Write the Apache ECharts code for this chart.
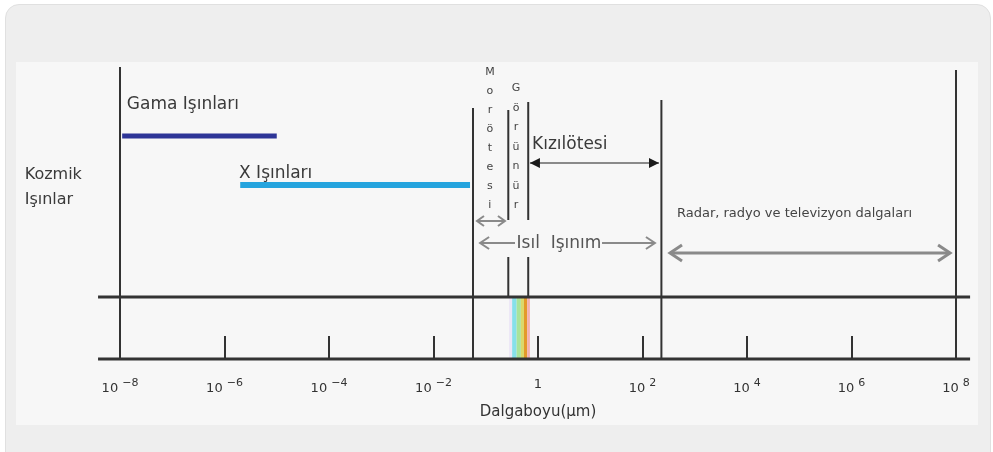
<!DOCTYPE html>
<html>
<head>
<meta charset="utf-8">
<script src="https://cdn.jsdelivr.net/npm/echarts@6.0.0/dist/echarts.min.js"></script>
<style>
  html, body { margin: 0; padding: 0; background: #fff; }
  #frame { position: absolute; left: 5px; top: 4px; width: 984px; height: 460px; background: #eeeeee; border-radius: 14px; border: 1px solid #e0e0e0; }
  #panel { position: absolute; left: 16px; top: 62px; width: 962px; height: 363px; background: #f7f7f7; }
  #chart { position: absolute; left: 0; top: 0; width: 993px; height: 452px; }
</style>
</head>
<body>
<div id="frame"></div>
<div id="panel"></div>
<div id="chart"></div>
<script>
// dalgaboyu değerleri μm, eksen log10 üzerinden çiziliyor
const lg = (v) => Math.log10(v)

// eksen üsleri
const tickExp = [-8, -6, -4, -2, 0, 2, 4, 6, 8]

// dikey sınır çizgileri
const lineAt = [1e-8, 0.057, 0.27, 0.27, 0.65, 0.65, 230, 1e8]
const lineTop = [292, 251, 249, 102, 257, 102, 259, 289]
const lineBottom = [0, 0, 139, 62, 139, 62, 0, 0]

// yatay çizgiler (taban ve üst şerit)
const railFrom = 3.8e-9
const railTo = 1.86e8
const railLevel = [0, 62]

// gama ve x ışınları aralıkları
const rayFrom = [1.1e-8, 2e-6]
const rayTo = [1e-5, 0.05]
const rayLevel = [223, 174]

// görünür bölge renk şeritleri
const bandFrom = [0.28, 0.32, 0.39, 0.47, 0.54, 0.62]
const bandTo = [0.32, 0.39, 0.47, 0.54, 0.62, 0.7]

// oklar: kızılötesi, morötesi, ısıl (sol/sağ), radar
const arrowFrom = [0.7, 0.068, 0.078, 16.8, 336]
const arrowTo = [207, 0.233, 0.363, 173, 7.7e7]
const arrowLevel = [196, 138, 116, 116, 106]
const arrowHead = ['both', 'both', 'start', 'end', 'both']

// yazılar
const labelText = [
  'Gama Işınları',
  'X Işınları',
  'Kozmik\nIşınlar',
  'Kızılötesi',
  'Isıl  Işınım',
  'Radar, radyo ve televizyon dalgaları',
  'M\no\nr\nö\nt\ne\ns\ni',
  'G\nö\nr\nü\nn\nü\nr',
]
const labelAt = [1.35e-8, 1.9e-6, 1.5e-10, 0.77, 2.52, 457, 0.12, 0.38]
const labelLevel = [254, 185, 172, 214, 115, 145, 220, 212]

const bandColor = ['#ece6f6', '#86e0ea', '#a9e39a', '#dcd86a', '#e39a2a', '#f2b0b0']
const rayColor = ['#2e3597', '#25a4de']
const arrowLook = [
  { color: '#8a8a8a', head: '#1a1a1a', width: 2, len: 10, half: 5, filled: true },
  { color: '#8a8a8a', head: '#8a8a8a', width: 2, len: 7, half: 5, filled: false },
  { color: '#8a8a8a', head: '#8a8a8a', width: 2, len: 9, half: 6, filled: false },
  { color: '#8a8a8a', head: '#8a8a8a', width: 2, len: 9, half: 6, filled: false },
  { color: '#8a8a8a', head: '#8a8a8a', width: 3, len: 12, half: 8, filled: false },
]
const labelLook = [
  { size: 17, color: '#3a3a3a', align: 'left', lh: 20 },
  { size: 17, color: '#3a3a3a', align: 'left', lh: 20 },
  { size: 16, color: '#3a3a3a', align: 'left', lh: 25 },
  { size: 17, color: '#3a3a3a', align: 'left', lh: 20 },
  { size: 17, color: '#555', align: 'center', lh: 20 },
  { size: 13, color: '#444', align: 'left', lh: 16 },
  { size: 11, color: '#444', align: 'center', lh: 19 },
  { size: 11, color: '#444', align: 'center', lh: 19.5 },
]

function segment(width, colorOf) {
  return function (params, api) {
    const a = api.coord([api.value(0), api.value(1)])
    const b = api.coord([api.value(2), api.value(3)])
    return {
      type: 'line',
      shape: { x1: a[0], y1: a[1], x2: b[0], y2: b[1] },
      style: { stroke: colorOf(params.dataIndex), lineWidth: width },
    }
  }
}

function arrow(params, api) {
  const look = arrowLook[params.dataIndex]
  const a = api.coord([api.value(0), api.value(2)])
  const b = api.coord([api.value(1), api.value(2)])
  const head = arrowHead[params.dataIndex]
  const kids = [{
    type: 'line',
    shape: { x1: a[0], y1: a[1], x2: b[0], y2: b[1] },
    style: { stroke: look.color, lineWidth: look.width },
  }]
  const tip = (p, dir) => {
    const pts = [[p[0] - dir * look.len, p[1] - look.half], [p[0], p[1]], [p[0] - dir * look.len, p[1] + look.half]]
    if (look.filled) return { type: 'polygon', shape: { points: pts }, style: { fill: look.head } }
    return { type: 'polyline', shape: { points: pts }, style: { stroke: look.head, lineWidth: look.width, fill: null } }
  }
  if (head !== 'end') kids.push(tip(a, -1))
  if (head !== 'start') kids.push(tip(b, 1))
  return { type: 'group', children: kids }
}

const chart = echarts.init(document.getElementById('chart'))

const option = {
  animation: false,
  grid: { left: 120, right: 37, top: 62, bottom: 93 },
  xAxis: {
    type: 'value',
    min: tickExp[0],
    max: tickExp[tickExp.length - 1],
    interval: 2,
    name: 'Dalgaboyu(μm)',
    nameLocation: 'middle',
    nameGap: 46,
    nameTextStyle: { fontFamily: 'DejaVu Sans', fontSize: 15, color: '#333' },
    axisLine: { show: false },
    splitLine: { show: false },
    axisTick: { inside: true, length: 23, lineStyle: { color: '#333', width: 2 } },
    axisLabel: {
      margin: 19,
      formatter: (v) => (v === 0 ? '{b|1}' : '{b|10}{s|' + String(v).replace('-', '−') + '}'),
      rich: {
        b: { fontFamily: 'DejaVu Sans', fontSize: 13, color: '#333' },
        s: { fontFamily: 'DejaVu Sans', fontSize: 11, color: '#333', padding: [0, 0, 11, 4] },
      },
    },
  },
  yAxis: { type: 'value', min: 0, max: 297, show: false },
  series: [
    {
      type: 'custom',
      encode: { x: [0, 1], y: 2 },
      data: bandFrom.map((f, i) => [lg(f), lg(bandTo[i]), railLevel[1]]),
      renderItem: (params, api) => {
        const p0 = api.coord([api.value(0), api.value(2)])
        const p1 = api.coord([api.value(1), railLevel[0]])
        return {
          type: 'rect',
          shape: { x: p0[0], y: p0[1], width: p1[0] - p0[0], height: p1[1] - p0[1] },
          style: { fill: bandColor[params.dataIndex] },
        }
      },
    },
    {
      type: 'custom',
      encode: { x: [0, 2], y: [1, 3] },
      data: railLevel.map((y) => [lg(railFrom), y, lg(railTo), y]),
      renderItem: segment(3, () => '#333'),
    },
    {
      type: 'custom',
      encode: { x: [0, 2], y: [1, 3] },
      data: lineAt.map((x, i) => [lg(x), lineTop[i], lg(x), lineBottom[i]]),
      renderItem: segment(2, () => '#333'),
    },
    {
      type: 'custom',
      encode: { x: [0, 2], y: [1, 3] },
      data: rayFrom.map((f, i) => [lg(f), rayLevel[i], lg(rayTo[i]), rayLevel[i]]),
      renderItem: (params, api) => {
        const seg = segment(params.dataIndex === 0 ? 5 : 6, (i) => rayColor[i])
        return seg(params, api)
      },
    },
    {
      type: 'custom',
      encode: { x: [0, 1], y: 2 },
      data: arrowFrom.map((f, i) => [lg(f), lg(arrowTo[i]), arrowLevel[i]]),
      renderItem: arrow,
    },
    {
      type: 'custom',
      encode: { x: 0, y: 1 },
      data: labelAt.map((x, i) => [lg(x), labelLevel[i]]),
      renderItem: (params, api) => {
        const look = labelLook[params.dataIndex]
        const p = api.coord([api.value(0), api.value(1)])
        return {
          type: 'text',
          x: p[0],
          y: p[1],
          style: {
            text: labelText[params.dataIndex],
            fill: look.color,
            fontFamily: 'DejaVu Sans',
            fontSize: look.size,
            lineHeight: look.lh,
            align: look.align,
            verticalAlign: 'middle',
          },
        }
      },
    },
  ],
}

chart.setOption(option)
</script>
</body>
</html>
